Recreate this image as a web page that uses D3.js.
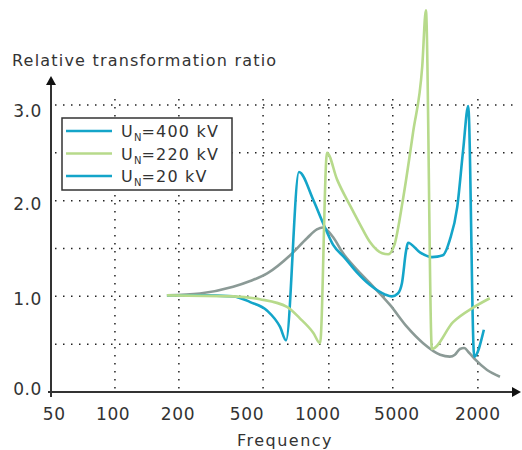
<!DOCTYPE html>
<html>
<head>
<meta charset="utf-8">
<script src="https://cdn.jsdelivr.net/npm/d3@7"></script>
<style>
  body { margin: 0; background: #fff; }
  svg { display: block; font-family: "DejaVu Sans", sans-serif; }
</style>
</head>
<body>
<div id="chart"></div>
<script>
// x is in plot units (the axis labels are not a real scale)
var freqLabels = ["50", "100", "200", "500", "1000", "5000", "2000"];
var labelPos = [0.07, 1.35, 2.76, 4.26, 5.80, 7.52, 9.28];
var gridX = [1.39, 2.78, 4.61, 6.04, 7.43, 9.28];
var gridY = [0.5, 1, 1.5, 2, 2.5, 3];
var yTicks = [0, 1, 2, 3];

var un400 = [
  [2.52, 1.01], [3.24, 1.01], [3.96, 1.00], [4.33, 0.94], [4.70, 0.85],
  [4.98, 0.68], [5.11, 0.54], [5.39, 2.30], [5.70, 2.01], [5.91, 1.77],
  [6.13, 1.54], [6.39, 1.40], [6.65, 1.25], [6.93, 1.12], [7.26, 1.02],
  [7.41, 1.00], [7.54, 1.03], [7.63, 1.14], [7.72, 1.48], [7.76, 1.56],
  [8.02, 1.46], [8.28, 1.41], [8.52, 1.43], [8.67, 1.59], [8.83, 1.93],
  [8.96, 2.53], [9.07, 2.99], [9.20, 0.37], [9.41, 0.65]
];
var un220 = [
  [2.52, 1.01], [3.96, 1.00], [4.54, 0.97], [5.13, 0.89], [5.41, 0.77],
  [5.70, 0.62], [5.85, 0.51], [6.00, 2.50], [6.22, 2.22], [6.50, 1.95],
  [6.72, 1.75], [6.93, 1.57], [7.20, 1.45], [7.33, 1.44], [7.46, 1.53],
  [7.65, 2.01], [7.87, 2.71], [8.07, 3.40], [8.15, 3.99], [8.28, 0.45],
  [8.74, 0.73], [9.17, 0.88], [9.54, 0.98]
];
var un20 = [
  [2.52, 1.01], [3.24, 1.03], [3.96, 1.10], [4.33, 1.16], [4.70, 1.24],
  [5.20, 1.43], [5.57, 1.61], [5.78, 1.70], [5.91, 1.72], [6.13, 1.62],
  [6.35, 1.45], [6.65, 1.28], [6.93, 1.14], [7.37, 0.91], [7.74, 0.68],
  [8.09, 0.51], [8.46, 0.39], [8.67, 0.37], [8.78, 0.39], [8.89, 0.45],
  [8.98, 0.46], [9.09, 0.41], [9.22, 0.34], [9.48, 0.23], [9.76, 0.16]
];

var seriesNames = ["400 kV", "220 kV", "20 kV"];
var seriesLegendColors = ["#14a5c9", "#b7da8b", "#14a5c9"];
var seriesColors = ["#14a5c9", "#b7da8b", "#8b9a96"];

var W = 522, H = 450;
var x = d3.scaleLinear().domain([0, 10]).range([51, 511]);
var y = d3.scaleLinear().domain([0, 3]).range([392, 105]);
var ink = "#333";

var svg = d3.select("#chart").append("svg")
    .attr("width", W).attr("height", H);

// dotted grid
svg.append("g").selectAll("line.gy").data(gridY).enter().append("line")
    .attr("x1", 55).attr("x2", 516)
    .attr("y1", function(d) { return y(d); })
    .attr("y2", function(d) { return y(d); })
    .attr("stroke", "#222").attr("stroke-width", 1.5)
    .attr("stroke-dasharray", "1.5,6.5");
svg.append("g").selectAll("line.gx").data(gridX).enter().append("line")
    .attr("x1", function(d) { return x(d); })
    .attr("x2", function(d) { return x(d); })
    .attr("y1", 99).attr("y2", 392)
    .attr("stroke", "#222").attr("stroke-width", 1.5)
    .attr("stroke-dasharray", "1.5,6.5");

// curves
var line = d3.line()
    .x(function(d) { return x(d[0]); })
    .y(function(d) { return y(d[1]); })
    .curve(d3.curveMonotoneX);

var allSeries = [un400, un220, un20];
// gray first so blue/green sit on top
[2, 0, 1].forEach(function(i) {
  svg.append("path")
      .attr("d", line(allSeries[i]))
      .attr("fill", "none")
      .attr("stroke", seriesColors[i])
      .attr("stroke-width", 2.6)
      .attr("stroke-linejoin", "round");
});

// axes with arrows
svg.append("line").attr("x1", 48).attr("x2", 512)
    .attr("y1", 392).attr("y2", 392)
    .attr("stroke", ink).attr("stroke-width", 2);
svg.append("path").attr("d", "M512,387 L521,392 L512,397 Z").attr("fill", "#111");
svg.append("line").attr("x1", 51).attr("x2", 51)
    .attr("y1", 397).attr("y2", 84)
    .attr("stroke", ink).attr("stroke-width", 2);
svg.append("path").attr("d", "M46,85 L51,76 L56,85 Z").attr("fill", "#111");

// tick labels
svg.append("g").selectAll("text").data(freqLabels).enter().append("text")
    .attr("x", function(d, i) { return x(labelPos[i]); })
    .attr("y", 420)
    .attr("text-anchor", "middle")
    .attr("font-size", 17).attr("letter-spacing", 0.6).attr("fill", ink)
    .text(function(d) { return d; });

svg.append("g").selectAll("text").data(yTicks).enter().append("text")
    .attr("x", 42)
    .attr("y", function(d) { return y(d) + (d === 0 ? 3 : d === 3 ? 12 : 9); })
    .attr("text-anchor", "end")
    .attr("font-size", 17).attr("letter-spacing", 0.6).attr("fill", ink)
    .text(function(d) { return d3.format(".1f")(d); });

svg.append("text").attr("x", 12).attr("y", 66)
    .attr("font-size", 16).attr("letter-spacing", 1.2).attr("fill", ink)
    .text("Relative transformation ratio");
svg.append("text").attr("x", 285).attr("y", 446)
    .attr("text-anchor", "middle")
    .attr("font-size", 16).attr("letter-spacing", 1.5).attr("fill", ink)
    .text("Frequency");

// legend
var lg = svg.append("g");
lg.append("rect").attr("x", 62).attr("y", 118)
    .attr("width", 170).attr("height", 72)
    .attr("fill", "#fff").attr("stroke", ink).attr("stroke-width", 1.5);
seriesNames.forEach(function(name, i) {
  var ly = 131 + i * 22.5;
  lg.append("line").attr("x1", 66).attr("x2", 112)
      .attr("y1", ly).attr("y2", ly)
      .attr("stroke", seriesLegendColors[i]).attr("stroke-width", 2.6);
  var t = lg.append("text").attr("x", 121).attr("y", ly + 6)
      .attr("font-size", 16).attr("letter-spacing", 1.2).attr("fill", ink);
  t.append("tspan").text("U");
  t.append("tspan").attr("font-size", 10).attr("dy", 4).attr("letter-spacing", 0).text("N");
  t.append("tspan").attr("dy", -4).text("=" + name);
});
</script>
</body>
</html>
